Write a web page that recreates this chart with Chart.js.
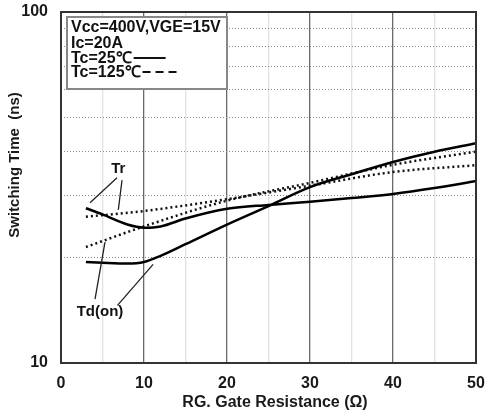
<!DOCTYPE html>
<html>
<head>
<meta charset="utf-8">
<script src="https://cdn.jsdelivr.net/npm/chart.js@4.4.1/dist/chart.umd.min.js"></script>
<style>
  html, body { margin: 0; padding: 0; background: #fff; }
  #wrap { width: 485px; height: 417px; }
</style>
</head>
<body>
<div id="wrap"><canvas id="swChart"></canvas></div>
<script>
// Tc = 25 C curves
const rgCold = [3, 5, 8, 10, 12, 15, 20, 25, 30, 35, 40, 45, 50];
const trCold = [27.6, 26.5, 24.8, 24.3, 24.5, 25.8, 27.5, 28.2, 28.8, 29.5, 30.3, 31.5, 33.0];
const tdonCold = [19.4, 19.3, 19.2, 19.4, 20.2, 21.8, 24.8, 28.0, 31.7, 34.5, 37.4, 40.0, 42.3];

// Tc = 125 C curves
const rgHot = [3, 10, 20, 30, 40, 50];
const trHot = [26.1, 27.1, 29.3, 32.0, 35.0, 36.6];
const tdonHot = [21.4, 24.5, 29.0, 32.6, 36.7, 40.0];

const xTickLabels = [0, 10, 20, 30, 40, 50];
const yTickLabels = [10, 100];
const legendLines = ['Vcc=400V,VGE=15V', 'Ic=20A', 'Tc=25℃', 'Tc=125℃'];

// label callouts: text anchor and the curve points the leader lines go to
const trCallout = { text: 'Tr', at: [6.9, 35.7], from: [[6.75, 33.7], [7.35, 33.2]], to: [[3.5, 28.6], [6.9, 27.3]] };
const tdCallout = { text: 'Td(on)', at: [4.7, 14.0], from: [[4.1, 15.2], [6.8, 14.6]], to: [[5.3, 22.1], [11.1, 19.1]] };

const pts = (xs, ys) => xs.map((x, i) => ({ x: x, y: ys[i] }));
const FONT = '"Liberation Sans", Arial, sans-serif';
const decade = v => Math.abs(v / 10 - Math.round(v / 10)) < 1e-6;

const solid = { borderColor: '#000', borderWidth: 2.5, pointRadius: 0, cubicInterpolationMode: 'monotone', fill: false };
const dotted = { borderColor: '#111', borderWidth: 2.5, borderDash: [2, 3], pointRadius: 0, cubicInterpolationMode: 'monotone', fill: false };

const overlay = {
    id: 'overlay',
    afterDraw(chart) {
        const { ctx, chartArea: a, scales: { x, y } } = chart;
        const px = p => [x.getPixelForValue(p[0]), y.getPixelForValue(p[1])];
        ctx.save();

        // plot frame
        ctx.strokeStyle = '#333';
        ctx.lineWidth = 2;
        ctx.strokeRect(a.left, a.top, a.right - a.left, a.bottom - a.top);

        // tick labels
        ctx.fillStyle = '#1a1a1a';
        ctx.font = 'bold 16px ' + FONT;
        ctx.textBaseline = 'middle';
        ctx.textAlign = 'center';
        xTickLabels.forEach(v => ctx.fillText(String(v), x.getPixelForValue(v), a.bottom + 21));
        ctx.textAlign = 'right';
        yTickLabels.forEach(v => ctx.fillText(String(v), a.left - 13, y.getPixelForValue(v)));

        // condition box
        const bx = a.left + 6, by = a.top + 5, bw = 160, bh = 72;
        ctx.fillStyle = '#fff';
        ctx.fillRect(bx, by, bw, bh);
        ctx.strokeStyle = '#888';
        ctx.lineWidth = 2;
        ctx.strokeRect(bx, by, bw, bh);

        ctx.fillStyle = '#111';
        ctx.font = 'bold 16px ' + FONT;
        ctx.textAlign = 'left';
        ctx.textBaseline = 'alphabetic';
        const baselines = [by + 15, by + 30.5, by + 46, by + 60];
        legendLines.forEach((t, i) => ctx.fillText(t, bx + 4, baselines[i]));

        // line samples
        ctx.strokeStyle = '#111';
        ctx.lineWidth = 2;
        let sx = bx + 4 + ctx.measureText(legendLines[2]).width + 2;
        ctx.beginPath(); ctx.moveTo(sx, by + 41); ctx.lineTo(sx + 32, by + 41); ctx.stroke();
        sx = bx + 4 + ctx.measureText(legendLines[3]).width + 2;
        ctx.setLineDash([8, 5]);
        ctx.beginPath(); ctx.moveTo(sx, by + 55); ctx.lineTo(sx + 34, by + 55); ctx.stroke();
        ctx.setLineDash([]);

        // callouts
        ctx.strokeStyle = '#222';
        ctx.lineWidth = 1.3;
        [trCallout, tdCallout].forEach(c => {
            c.from.forEach((f, i) => {
                const p0 = px(f), p1 = px(c.to[i]);
                ctx.beginPath(); ctx.moveTo(p0[0], p0[1]); ctx.lineTo(p1[0], p1[1]); ctx.stroke();
            });
            const t = px(c.at);
            ctx.font = 'bold 15px ' + FONT;
            ctx.textAlign = 'center';
            ctx.textBaseline = 'middle';
            ctx.fillText(c.text, t[0], t[1]);
        });

        // axis titles
        ctx.fillStyle = '#1a1a1a';
        ctx.font = 'bold 16px ' + FONT;
        ctx.textAlign = 'center';
        ctx.textBaseline = 'middle';
        ctx.fillText('RG. Gate Resistance (Ω)', 275, 403);
        ctx.translate(15, 165);
        ctx.rotate(-Math.PI / 2);
        ctx.font = 'bold 15px ' + FONT;
        ctx.fillText('Switching Time  (ns)', 0, 0);
        ctx.restore();
    }
};

new Chart(document.getElementById('swChart'), {
    type: 'line',
    data: {
        datasets: [
            { ...solid, label: 'Tr 25', data: pts(rgCold, trCold) },
            { ...solid, label: 'Td(on) 25', data: pts(rgCold, tdonCold) },
            { ...dotted, label: 'Tr 125', data: pts(rgHot, trHot) },
            { ...dotted, label: 'Td(on) 125', data: pts(rgHot, tdonHot) }
        ]
    },
    options: {
        responsive: true,
        maintainAspectRatio: false,
        animation: false,
        layout: { padding: { top: 12, right: 9, left: 0, bottom: 0 } },
        plugins: { legend: { display: false }, tooltip: { enabled: false } },
        scales: {
            x: {
                type: 'linear',
                min: 0,
                max: 50,
                afterFit: s => { s.height = 54; },
                border: { display: false },
                grid: {
                    drawTicks: false,
                    lineWidth: 1.3,
                    color: c => (c.tick && c.tick.value % 10 === 0) ? '#6a6a6a' : '#e2e2e2'
                },
                ticks: { stepSize: 5, autoSkip: false, display: false }
            },
            y: {
                type: 'logarithmic',
                min: 10,
                max: 100,
                afterFit: s => { s.width = 61; },
                border: { display: false, dash: [1, 2] },
                grid: {
                    drawTicks: false,
                    lineWidth: 1,
                    color: c => (c.tick && decade(c.tick.value)) ? '#8a8a8a' : 'rgba(0,0,0,0)'
                },
                ticks: { autoSkip: false, display: false }
            }
        }
    },
    plugins: [overlay]
});
</script>
</body>
</html>
